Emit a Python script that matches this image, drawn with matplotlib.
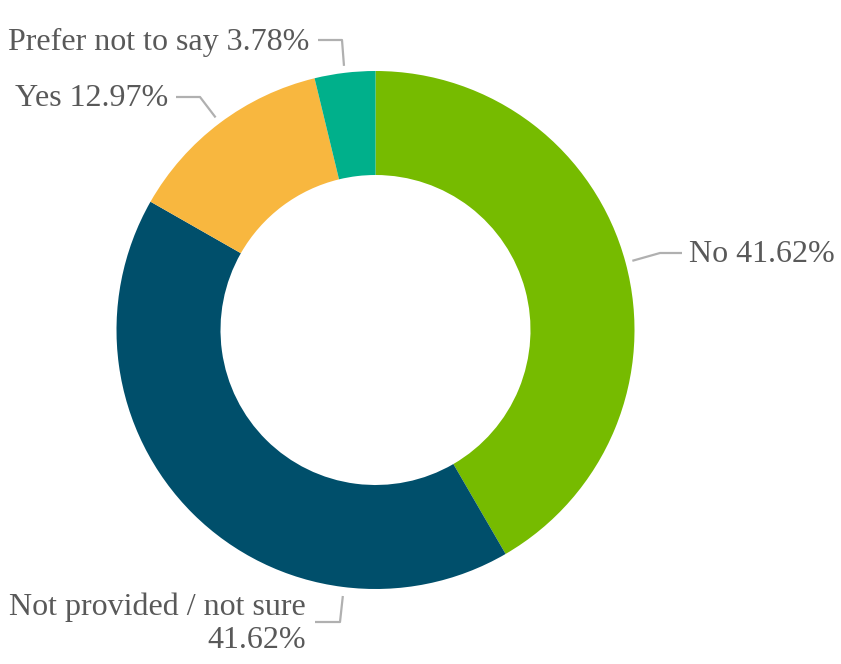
import numpy as np
import matplotlib
matplotlib.use("Agg")
import matplotlib.pyplot as plt

labels = ["No", "Not provided / not sure", "Yes", "Prefer not to say"]
shares = [41.62, 41.62, 12.97, 3.78]
colors = ["#76bb00", "#004f6b", "#f8b73f", "#00b08b"]

W, H = 841, 664
fig = plt.figure(figsize=(W / 100, H / 100), dpi=100)
ax = fig.add_axes([0, 0, 1, 1])

cx, cy = 375.5, H - 330
r_out, r_in = 259, 155

wedges, _ = ax.pie(shares, colors=colors, startangle=90, counterclock=False,
                   radius=r_out, center=(cx, cy),
                   wedgeprops=dict(width=r_out - r_in, linewidth=0),
                   frame=True)
ax.set_xlim(0, W)
ax.set_ylim(0, H)
ax.set_aspect("equal")
ax.axis("off")

text_kw = dict(fontsize=23, color="#595959", family="Liberation Serif")
line_kw = dict(color="#b0b0b0", lw=1.6, solid_capstyle="butt")

def py(y):
    return H - y

def anchor(theta_deg, r=266):
    t = np.deg2rad(theta_deg)
    return cx + r * np.cos(t), cy + r * np.sin(t)

mids = [(w.theta1 + w.theta2) / 2 for w in wedges]

# No
a0 = anchor(mids[0])
ax.plot([a0[0], 660, 682], [a0[1], py(253), py(253)], **line_kw)
ax.text(689, py(254), f"{labels[0]} {shares[0]:.2f}%", ha="left", va="center", **text_kw)

# Not provided / not sure (label pushed toward the bottom)
a1 = anchor(263, 268)
ax.plot([a1[0], 340, 315], [a1[1], py(622), py(622)], **line_kw)
ax.text(306, py(624), f"{labels[1]}\n{shares[1]:.2f}%", ha="right", va="center",
        multialignment="right", linespacing=1.2, **text_kw)

# Yes
a2 = anchor(mids[2])
ax.plot([a2[0], 200, 176], [a2[1], py(97), py(97)], **line_kw)
ax.text(168, py(98), f"{labels[2]} {shares[2]:.2f}%", ha="right", va="center", **text_kw)

# Prefer not to say
a3 = anchor(mids[3])
ax.plot([a3[0], 342, 318], [a3[1], py(40), py(40)], **line_kw)
ax.text(309, py(42), f"{labels[3]} {shares[3]:.2f}%", ha="right", va="center", **text_kw)

fig.savefig("out.png", dpi=100, facecolor="white")
